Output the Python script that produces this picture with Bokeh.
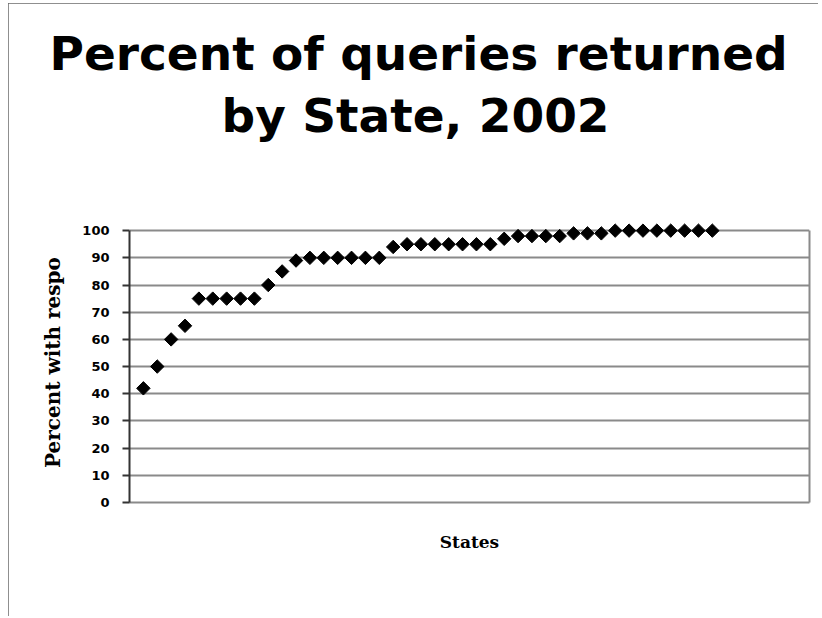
import numpy as np
from bokeh.plotting import figure
from bokeh.models import ColumnDataSource, Title, LinearAxis, Range1d, FixedTicker
from bokeh.embed import file_html
from bokeh.resources import INLINE

# ---- data ----
states = list(range(1, 43))
percent = [42, 50, 60, 65, 75, 75, 75, 75, 75, 80, 85, 89,
           90, 90, 90, 90, 90, 90, 94, 95, 95, 95, 95, 95, 95, 95,
           97, 98, 98, 98, 98, 99, 99, 99,
           100, 100, 100, 100, 100, 100, 100, 100]
y_ticks = [0, 10, 20, 30, 40, 50, 60, 70, 80, 90, 100]
title_line1 = "Percent of queries returned"
title_line2 = "by State, 2002"
x_label = "States"
y_label = "Percent with respo"

src = ColumnDataSource(data=dict(state=states, percent=percent))

p = figure(width=810, height=613, output_backend="svg", toolbar_location=None,
           x_range=Range1d(0, 49), y_range=Range1d(0, 103),
           min_border_left=121, min_border_right=9,
           min_border_top=219, min_border_bottom=114)
p.styles = {"outline": "2px solid #6a6a6a", "outline-offset": "-2px",
            "margin-left": "8px", "margin-top": "3px"}
p.outline_line_color = None
p.background_fill_color = "white"
p.border_fill_color = "white"

TFONT = dict(text_font="DejaVu Sans", text_font_size="47px",
             text_font_style="bold", text_color="black")

# title line 1 (outermost)
p.title.text = title_line1
p.title.align = "left"
p.title.offset = -80
p.title.standoff = 0
p.title.text_font = "DejaVu Sans"
p.title.text_font_size = "47px"
p.title.text_font_style = "bold"
p.title.text_color = "black"

# spacer nearest the frame, then title line 2
spacer = Title(text=" ", text_font_size="10px", standoff=62, text_color="white")
p.add_layout(spacer, "above")
t2 = Title(text=title_line2, align="left", offset=92, standoff=10, **TFONT)
p.add_layout(t2, "above")

# y axis
yax = p.yaxis[0]
yax.ticker = FixedTicker(ticks=y_ticks)
yax.bounds = (0, 100)
yax.axis_line_color = "#333333"
yax.axis_line_width = 2
yax.major_tick_line_color = "#333333"
yax.major_tick_line_width = 2
yax.major_tick_in = 0
yax.major_tick_out = 7
yax.minor_tick_line_color = None
yax.major_label_text_font = "DejaVu Sans"
yax.major_label_text_font_style = "bold"
yax.major_label_text_font_size = "13px"
yax.major_label_text_color = "black"
yax.major_label_standoff = 13
yax.axis_label = y_label
yax.axis_label_text_font = "DejaVu Serif"
yax.axis_label_text_font_style = "bold"
yax.axis_label_text_font_size = "20px"
yax.axis_label_text_color = "black"
yax.axis_label_standoff = 14

# x axis
xax = p.xaxis[0]
xax.ticker = FixedTicker(ticks=[])
xax.axis_line_color = "#8a8a8a"
xax.axis_line_width = 2
xax.major_tick_line_color = None
xax.minor_tick_line_color = None
xax.axis_label = x_label
xax.axis_label_text_font = "DejaVu Serif"
xax.axis_label_text_font_style = "bold"
xax.axis_label_text_font_size = "17px"
xax.axis_label_text_color = "black"
xax.axis_label_standoff = 29

# right border as axis line
rax = LinearAxis(bounds=(0, 100), ticker=FixedTicker(ticks=[]),
                 axis_line_color="#8a8a8a", axis_line_width=2,
                 major_tick_line_color=None, minor_tick_line_color=None,
                 major_label_text_font_size="0px")
p.add_layout(rax, "right")

# grid
p.xgrid.visible = False
p.ygrid.ticker = FixedTicker(ticks=y_ticks)
p.ygrid.grid_line_color = "#8a8a8a"
p.ygrid.grid_line_width = 2

p.scatter(x="state", y="percent", source=src, marker="square", angle=np.pi / 4,
          size=9.5, fill_color="black", line_color="black")

open("out.html", "w").write(file_html(p, INLINE))
